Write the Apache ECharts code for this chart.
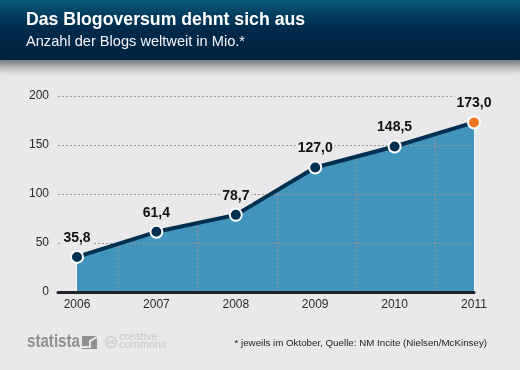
<!DOCTYPE html>
<html><head><meta charset="utf-8">
<script src="https://cdn.jsdelivr.net/npm/echarts@6/dist/echarts.min.js"></script>
<style>html,body{margin:0;padding:0;background:#e9e9eb}#c{width:520px;height:370px}</style>
</head><body><div id="c"></div>
<script>
const years = [2006, 2007, 2008, 2009, 2010, 2011];
const blogs = [35.8, 61.4, 78.7, 127.0, 148.5, 173.0];
const yTicks = [0, 50, 100, 150, 200];
const titleText = 'Das Blogoversum dehnt sich aus';
const subtitleText = 'Anzahl der Blogs weltweit in Mio.*';
const footnoteText = '* jeweils im Oktober, Quelle: NM Incite (Nielsen/McKinsey)';

const font = '"Liberation Sans", Arial, sans-serif';
const points = years.map((y, i) => [y, blogs[i]]);
const chart = echarts.init(document.getElementById('c'), null, {renderer: 'canvas'});

const dividers = years.slice(0, -1).map((y, i) => [y + 0.5, (blogs[i] + blogs[i + 1]) / 2]);

chart.setOption({
  animation: false,
  backgroundColor: '#e9e9eb',
  title: [
    {text: titleText, left: 26, top: 11, padding: 0, textStyle: {color: '#fff', fontFamily: font, fontWeight: 'bold', fontSize: 17.7}},
    {text: subtitleText, left: 26, top: 34, padding: 0, textStyle: {color: '#f4f6f8', fontFamily: font, fontWeight: 'normal', fontSize: 14.6}}
  ],
  grid: [
    {left: 58, right: 46, top: 96, bottom: 78},
    {left: 77, right: 46, top: 96, bottom: 78}
  ],
  xAxis: [
    {gridIndex: 0, type: 'value', min: 0, max: 1, z: 4, axisLabel: {show: false}, axisTick: {show: false}, splitLine: {show: false},
     axisLine: {show: true, onZero: false, lineStyle: {color: '#1d2226', width: 3}}},
    {gridIndex: 1, type: 'value', min: years[0], max: years[years.length - 1], interval: 1, z: 4,
     axisLine: {show: false}, axisTick: {show: false}, splitLine: {show: false},
     axisLabel: {color: '#2b2b2b', fontFamily: font, fontSize: 12, margin: 7, formatter: v => String(v)}}
  ],
  yAxis: [
    {gridIndex: 0, type: 'value', min: yTicks[0], max: yTicks[yTicks.length - 1], interval: 50, z: 3,
     axisLine: {show: false}, axisTick: {show: false},
     axisLabel: {color: '#2b2b2b', fontFamily: font, fontSize: 12, margin: 9},
     splitLine: {show: true, lineStyle: {color: '#959595', type: [2, 2], width: 1}}},
    {gridIndex: 1, type: 'value', min: yTicks[0], max: yTicks[yTicks.length - 1], interval: 50, show: false}
  ],
  series: [
    {type: 'line', xAxisIndex: 1, yAxisIndex: 1, z: 1, data: points, symbol: 'none', silent: true,
     lineStyle: {width: 0}, areaStyle: {color: '#4394bd', opacity: 1}},
    {type: 'custom', xAxisIndex: 1, yAxisIndex: 1, z: 2, silent: true, data: dividers,
     renderItem: (p, api) => {
       const a = api.coord([api.value(0), 0]), b = api.coord([api.value(0), api.value(1)]);
       const x = Math.round(a[0]) + 1.5;
       return {type: 'line', shape: {x1: x, y1: a[1], x2: x, y2: b[1]},
               style: {stroke: '#8d9296', lineWidth: 1.3, lineDash: [2, 2]}};
     }},
    {type: 'custom', xAxisIndex: 1, yAxisIndex: 1, z: 2, silent: true,
     data: [points[0], points[points.length - 1]],
     renderItem: (p, api) => {
       const a = api.coord([api.value(0), 0]), b = api.coord([api.value(0), api.value(1)]);
       const off = p.dataIndex === 0 ? -0.5 : 0.5;
       return {type: 'line', shape: {x1: a[0] + off, y1: a[1], x2: a[0] + off, y2: b[1]},
               style: {stroke: '#f7f7f7', lineWidth: 1}};
     }},
    {type: 'line', xAxisIndex: 1, yAxisIndex: 1, z: 10, silent: true,
     data: points.map((p, i) => ({value: p, itemStyle: {color: i === points.length - 1 ? '#ee7522' : '#00304f'}})),
     symbol: 'circle', symbolSize: 12, showAllSymbol: true,
     lineStyle: {color: '#00304f', width: 4},
     itemStyle: {borderColor: '#fff', borderWidth: 2},
     label: {show: true, position: 'top', distance: 4, color: '#111', fontFamily: font, fontWeight: 'bold', fontSize: 14,
             backgroundColor: '#e9e9eb', padding: [1, 2],
             formatter: p => p.value[1].toFixed(1).replace('.', ',')}}
  ],
  graphic: [
    {type: 'rect', z: 0, shape: {x: -10, y: 0, width: 540, height: 60},
     style: {fill: new echarts.graphic.LinearGradient(0, 0, 0, 1, [
       {offset: 0, color: '#0b5c7c'}, {offset: 0.25, color: '#033d5e'}, {offset: 0.5, color: '#00294a'}, {offset: 1, color: '#00233f'}]),
       shadowBlur: 12, shadowOffsetY: 5, shadowColor: 'rgba(0,0,0,0.6)'}},
    {type: 'text', z: 5, x: 487, y: 338, style: {text: footnoteText, fill: '#1c1c1c', font: '9.75px ' + font, textAlign: 'right'}},
    {type: 'text', z: 5, x: 27, y: 333, scaleX: 0.84, style: {text: 'statista', fill: '#8f9092', font: 'bold 18px ' + font}},
    {type: 'rect', z: 5, shape: {x: 82, y: 336, width: 15, height: 13}, style: {fill: '#8f9092'}},
    {type: 'polyline', z: 6, shape: {points: [[82, 347], [90, 347], [90, 341], [97, 337]]}, style: {fill: 'none', stroke: '#e9e9eb', lineWidth: 2}},
    {type: 'circle', z: 5, shape: {cx: 111, cy: 342, r: 5.5}, style: {fill: 'none', stroke: '#c6c7c9', lineWidth: 1.2}},
    {type: 'text', z: 5, x: 111, y: 342, style: {text: 'cc', fill: '#c6c7c9', font: 'bold 7px ' + font, textAlign: 'center', textVerticalAlign: 'middle'}},
    {type: 'text', z: 5, x: 119, y: 332, style: {text: 'creative', fill: '#c6c7c9', font: '11px ' + font, lineHeight: 9}},
    {type: 'text', z: 5, x: 119, y: 340, style: {text: 'commons', fill: '#c6c7c9', font: '11px ' + font, lineHeight: 9}}
  ]
});
</script></body></html>
